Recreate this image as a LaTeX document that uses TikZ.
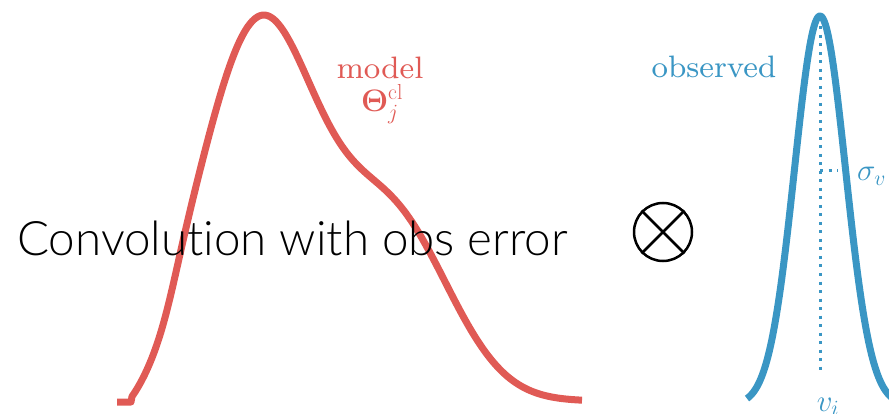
\RequirePackage{fix-cm}
\documentclass[tikz,border=0pt]{standalone}
\usepackage{amsmath}
\usepackage[no-math]{fontspec}
\newfontfamily\convfont[Ligatures=NoCommon]{Lato Light}
\newfontfamily\lblfont{lmroman8-regular.otf}
\definecolor{modelred}{HTML}{E05A55}
\definecolor{obsblue}{HTML}{3A96C4}
\tikzset{
  curve/.style={line width=7pt, line join=round},
  lbl/.style={inner sep=0pt, font=\lblfont\fontsize{31}{36}\selectfont},
  dotline/.style={obsblue, line width=3pt, dash pattern=on 3pt off 5.5pt},
}
\begin{document}
\begin{tikzpicture}[x=1pt,y=-1pt]
\useasboundingbox (0,0) rectangle (889,414);
\begin{scope}
\clip (0,0) rectangle (889,414);
% model curve
\coordinate (m0) at (117,402);
\coordinate (m1) at (131,402);
\draw[curve, modelred] (m0) -- (m1) -- plot[domain=132:582, samples=226, smooth]
  (\x, {401 - ((\x<258.5) ? (372*exp(-0.5*((\x-258.5)/60)^2)) : (372*exp(-0.5*((\x-258.5)/58)^2)))
        - 178*exp(-0.5*((\x-392)/58)^2)
        + 36*exp(-(\x-174)/8)/(1+exp(-(\x-174)/8))});
% observed gaussian
\draw[curve, obsblue, domain=747:900, samples=120, smooth]
  plot (\x, {405-389*exp(-((\x-820)^2)/(2*25.5^2))});
% dotted lines
\coordinate (top) at (820,18);
\coordinate (bot) at (820,372);
\coordinate (sl) at (820,171);
\coordinate (sr) at (838,171);
\draw[dotline] (top) -- (bot);
\draw[dotline] (sl) -- (sr);
\node[lbl, obsblue, anchor=base west] (sig) at (857,181) {$\sigma_v$};
\node[lbl, obsblue, anchor=base] (vi) at (828,411) {$v_i$};
\end{scope}
% labels
\node[lbl, modelred, anchor=base] (model) at (380,79) {model};
\node[lbl, modelred, anchor=base] (theta) at (382,112) {$\boldsymbol{\Theta}^{\mathrm{cl}}_j$};
\node[lbl, obsblue, anchor=base] (obs) at (714,78) {observed};
% convolution symbol
\node[circle, draw, line width=2.5pt, minimum size=58pt, inner sep=0pt] (ot) at (663,232) {};
\draw[line width=2.5pt] (ot.45) -- (ot.225);
\draw[line width=2.5pt] (ot.135) -- (ot.315);
% big text
\node[inner sep=0pt, anchor=base west, font=\convfont\fontsize{47.5}{52}\selectfont] (conv) at (17,255) {Convolution with obs error};
\end{tikzpicture}
\end{document}
